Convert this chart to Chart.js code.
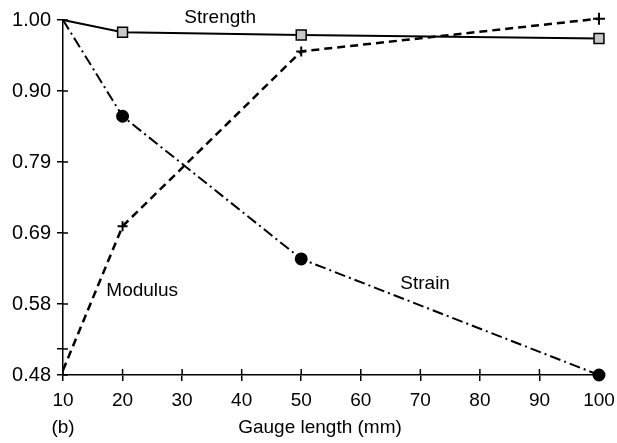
<!DOCTYPE html>
<html>
<head>
<meta charset="utf-8">
<script src="https://cdn.jsdelivr.net/npm/chart.js@4.4.1/dist/chart.umd.min.js"></script>
<style>
  html, body { margin: 0; padding: 0; background: #fff; }
  #wrap { width: 617px; height: 443px; }
</style>
</head>
<body>
<div id="wrap"><canvas id="c" width="617" height="443"></canvas></div>
<script>
// gauge lengths (mm)
const gauge = [10, 20, 50, 100];
// normalised values
const strength = [1.00, 0.982, 0.978, 0.973];
const modulus = [0.487, 0.698, 0.954, 1.002];
const strain = [1.00, 0.859, 0.650, 0.480];

const yTicks = [0.48, 0.584, 0.688, 0.792, 0.896, 1.00];
const yMinor = [0.518];
const xTicks = [10, 20, 30, 40, 50, 60, 70, 80, 90, 100];

// text placed on the plot, in data coordinates
const notes = [
    { text: "Strength", x: 36.4, y: 1.003 },
    { text: "Modulus", x: 23.3, y: 0.603 },
    { text: "Strain", x: 70.8, y: 0.613 }
];

const FONT = "Liberation Sans, Arial, sans-serif";

function toXY(xs, ys) {
    return xs.map((x, i) => ({ x: x, y: ys[i] }));
}

// ticks on the inside of the axes, plus the text labels
const extras = {
    id: "extras",
    afterDraw(chart) {
        let ctx = chart.ctx;
        let xs = chart.scales.x, ys = chart.scales.y;
        let area = chart.chartArea;
        ctx.save();
        ctx.strokeStyle = "#000";
        ctx.lineWidth = 1.5;
        ctx.beginPath();
        yTicks.concat(yMinor).forEach(v => {
            let py = ys.getPixelForValue(v);
            ctx.moveTo(area.left, py);
            ctx.lineTo(area.left + 5, py);
        });
        xTicks.forEach(v => {
            let px = xs.getPixelForValue(v);
            ctx.moveTo(px, area.bottom);
            ctx.lineTo(px, area.bottom - 6);
        });
        ctx.stroke();

        ctx.fillStyle = "#000";
        ctx.font = "19px " + FONT;
        ctx.textAlign = "center";
        ctx.textBaseline = "middle";
        notes.forEach(n => {
            ctx.fillText(n.text, xs.getPixelForValue(n.x), ys.getPixelForValue(n.y));
        });
        ctx.fillText("Gauge length (mm)", 320, 428);
        ctx.fillText("(b)", 63, 428);
        ctx.restore();
    }
};

new Chart(document.getElementById("c"), {
    type: "line",
    data: {
        datasets: [
            {
                label: "Strength",
                data: toXY(gauge, strength),
                clip: false,
                borderColor: "#000",
                borderWidth: 2,
                pointStyle: "rect",
                pointRadius: [0, 7, 7, 7],
                pointBackgroundColor: "#c8c8c8",
                pointBorderColor: "#000",
                pointBorderWidth: 1.5
            },
            {
                label: "Modulus",
                data: toXY(gauge, modulus),
                clip: false,
                borderColor: "#000",
                borderWidth: 2.5,
                borderDash: [8, 5],
                pointStyle: "cross",
                pointRadius: [0, 5, 5, 6],
                pointBorderColor: "#000",
                pointBorderWidth: 2
            },
            {
                label: "Strain",
                data: toXY(gauge, strain),
                clip: false,
                borderColor: "#000",
                borderWidth: 2,
                borderDash: [11, 4, 2, 4],
                pointStyle: "circle",
                pointRadius: [0, 5.5, 5.5, 5.5],
                pointBackgroundColor: "#000",
                pointBorderColor: "#000"
            }
        ]
    },
    options: {
        responsive: false,
        animation: false,
        layout: { padding: { top: 20, right: 18, left: 0, bottom: 0 } },
        plugins: {
            legend: { display: false },
            tooltip: { enabled: false }
        },
        scales: {
            x: {
                type: "linear",
                min: 10,
                max: 100,
                afterBuildTicks: axis => { axis.ticks = xTicks.map(v => ({ value: v })); },
                afterFit: axis => { axis.height = 68; axis.paddingLeft = 0; axis.paddingRight = 0; },
                grid: { drawOnChartArea: false, color: "#000", lineWidth: 1.5, tickLength: 6 },
                border: { color: "#000", width: 1.5 },
                ticks: { color: "#000", font: { family: FONT, size: 19 }, padding: 8, maxRotation: 0 }
            },
            y: {
                min: 0.48,
                max: 1.00,
                afterBuildTicks: axis => {
                    axis.ticks = yTicks.concat(yMinor).sort((a, b) => a - b).map(v => ({ value: v }));
                },
                afterFit: axis => { axis.width = 63; axis.paddingTop = 0; axis.paddingBottom = 0; },
                grid: { drawOnChartArea: false, color: "#000", lineWidth: 1.5, tickLength: 6 },
                border: { color: "#000", width: 1.5 },
                ticks: {
                    color: "#000",
                    font: { family: FONT, size: 20 },
                    padding: 6,
                    callback: v => yMinor.includes(v) ? "" : v.toFixed(2)
                }
            }
        }
    },
    plugins: [extras]
});
</script>
</body>
</html>
